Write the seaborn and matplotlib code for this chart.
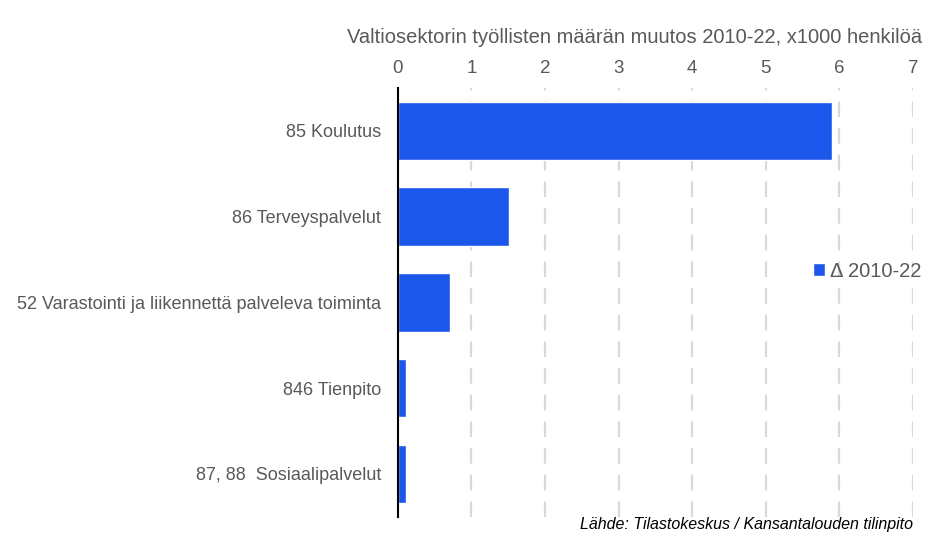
import matplotlib.pyplot as plt
import pandas as pd
import seaborn as sns

# Data (x1000 persons)
categories = ['85 Koulutus', '86 Terveyspalvelut',
              '52 Varastointi ja liikennettä palveleva toiminta',
              '846 Tienpito', '87, 88  Sosiaalipalvelut']
values = [5.9, 1.51, 0.71, 0.11, 0.11]
x_ticks = [0, 1, 2, 3, 4, 5, 6, 7]

df = pd.DataFrame({'toimiala': categories, 'muutos': values})

sns.set_theme(style='white')
plt.rcParams['font.family'] = ['Liberation Sans', 'DejaVu Sans']

fig = plt.figure(figsize=(9.43, 5.40), dpi=100)
ax = fig.add_axes([0.422, 0.043, 0.546, 0.794])

sns.barplot(data=df, x='muutos', y='toimiala', orient='h', color='#1c57eb',
            width=0.68, saturation=1, ax=ax, label='Δ 2010-22')

ax.set_xlim(0, 7)
ax.set_xticks(x_ticks)
ax.xaxis.tick_top()
ax.tick_params(axis='x', length=0, pad=8, labelsize=13.5, labelcolor='#595959')
ax.tick_params(axis='y', length=0, pad=12, labelsize=13, labelcolor='#595959')
ax.set_xlabel('')
ax.set_ylabel('')

for t in x_ticks[1:]:
    ax.axvline(t, color='#d9d9d9', linewidth=1.6, linestyle=(0, (7, 5)), zorder=0)

for side in ['top', 'right', 'bottom']:
    ax.spines[side].set_visible(False)
ax.spines['left'].set_color('black')
ax.spines['left'].set_linewidth(1.5)

ax.legend(loc='center left', bbox_to_anchor=(0.77, 0.573), frameon=False,
          fontsize=14.5, handlelength=0.6, handleheight=0.6, handletextpad=0.25,
          labelcolor='#595959')

fig.text(0.673, 0.93, 'Valtiosektorin työllisten määrän muutos 2010-22, x1000 henkilöä',
         ha='center', va='center', fontsize=14.5, color='#595959')
fig.text(0.968, 0.028, 'Lähde: Tilastokeskus / Kansantalouden tilinpito',
         ha='right', va='center', fontsize=11.5, style='italic', color='black')

fig.savefig('out.png', dpi=100)
